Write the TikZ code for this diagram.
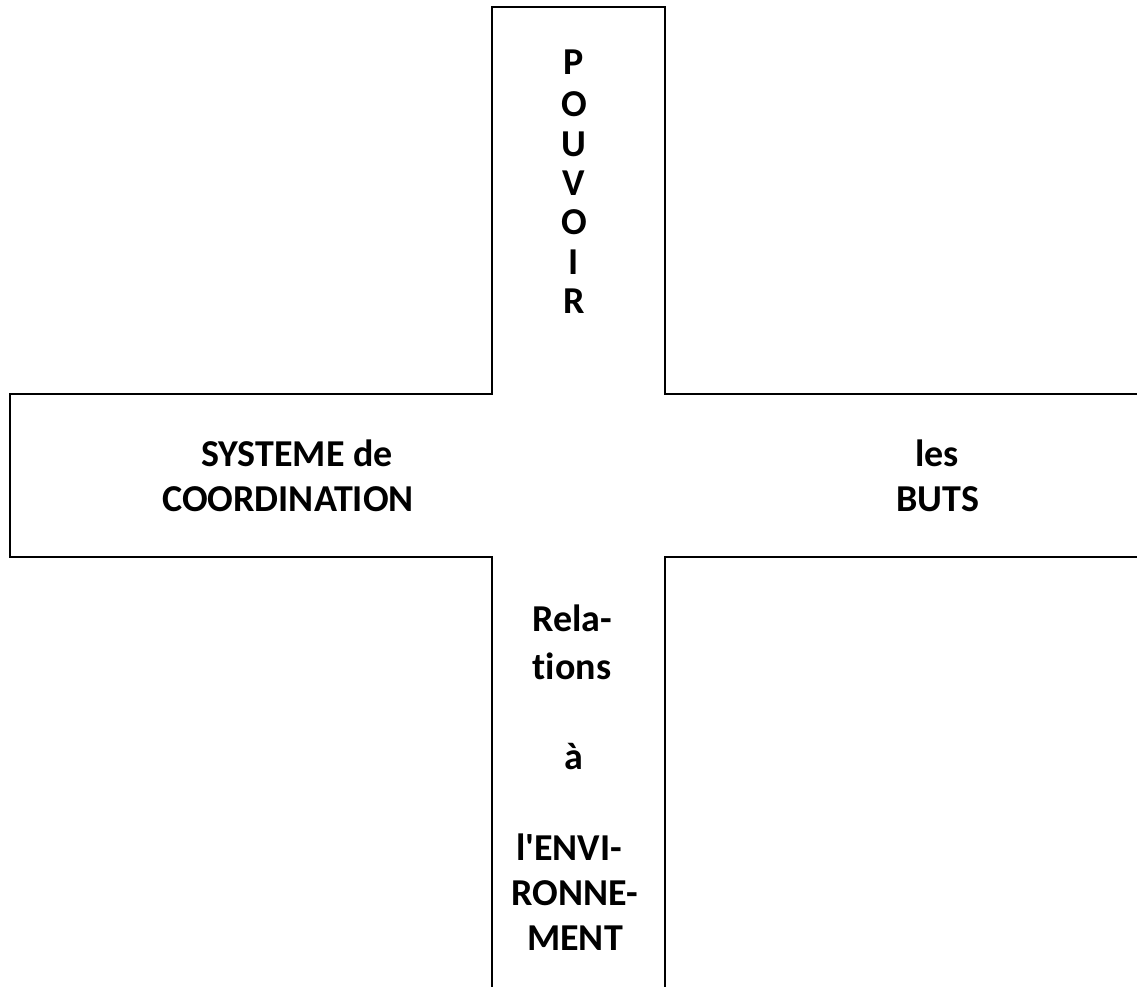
\documentclass[tikz,border=0pt]{standalone}
\usepackage{fontspec}
\setmainfont{Carlito}[Ligatures={TeXOff,NoCommon}]
\begin{document}
\begin{tikzpicture}[x=1pt,y=-1pt,
  outline/.style={line width=2pt, line join=miter},
  lbl/.style={font=\fontsize{38}{46}\selectfont\bfseries, inner sep=0pt, anchor=center}]
\useasboundingbox (0,0) rectangle (1137,987);
% cross outline
\coordinate (rt1) at (1137,394);
\coordinate (ci1) at (665,394);
\coordinate (tr) at (665,7);
\coordinate (tl) at (492,7);
\coordinate (ci2) at (492,394);
\coordinate (lt) at (10,394);
\coordinate (lb) at (10,557);
\coordinate (ci3) at (492,557);
\coordinate (bl) at (492,987);
\coordinate (br) at (665,987);
\coordinate (ci4) at (665,557);
\coordinate (rb) at (1137,557);
\draw[outline] (rt1) -- (ci1) -- (tr) -- (tl) -- (ci2) -- (lt) -- (lb) -- (ci3) -- (bl);
\draw[outline] (br) -- (ci4) -- (rb);
% POUVOIR
\node[lbl] (p1) at (574,62) {P};
\node[lbl] (p2) at (574,104) {O};
\node[lbl] (p3) at (574,144) {U};
\node[lbl] (p4) at (574,183) {V};
\node[lbl] (p5) at (574,222) {O};
\node[lbl] (p6) at (574,262) {I};
\node[lbl] (p7) at (574,301) {R};
% left
\node[lbl] (s1) at (297,453) {SYSTEME de};
\node[lbl] (s2) at (288,499) {COORDINATION};
% right
\node[lbl] (b1) at (937,453) {les};
\node[lbl] (b2) at (938,499) {BUTS};
% bottom
\node[lbl] (r1) at (572,618) {Rela-};
\node[lbl] (r2) at (572,666) {tions};
\node[lbl] (r3) at (574,757) {à};
\node[lbl] (r4) at (569,847) {l'ENVI-};
\node[lbl] (r5) at (575,893) {RONNE-};
\node[lbl] (r6) at (575,938) {MENT};
\end{tikzpicture}
\end{document}
